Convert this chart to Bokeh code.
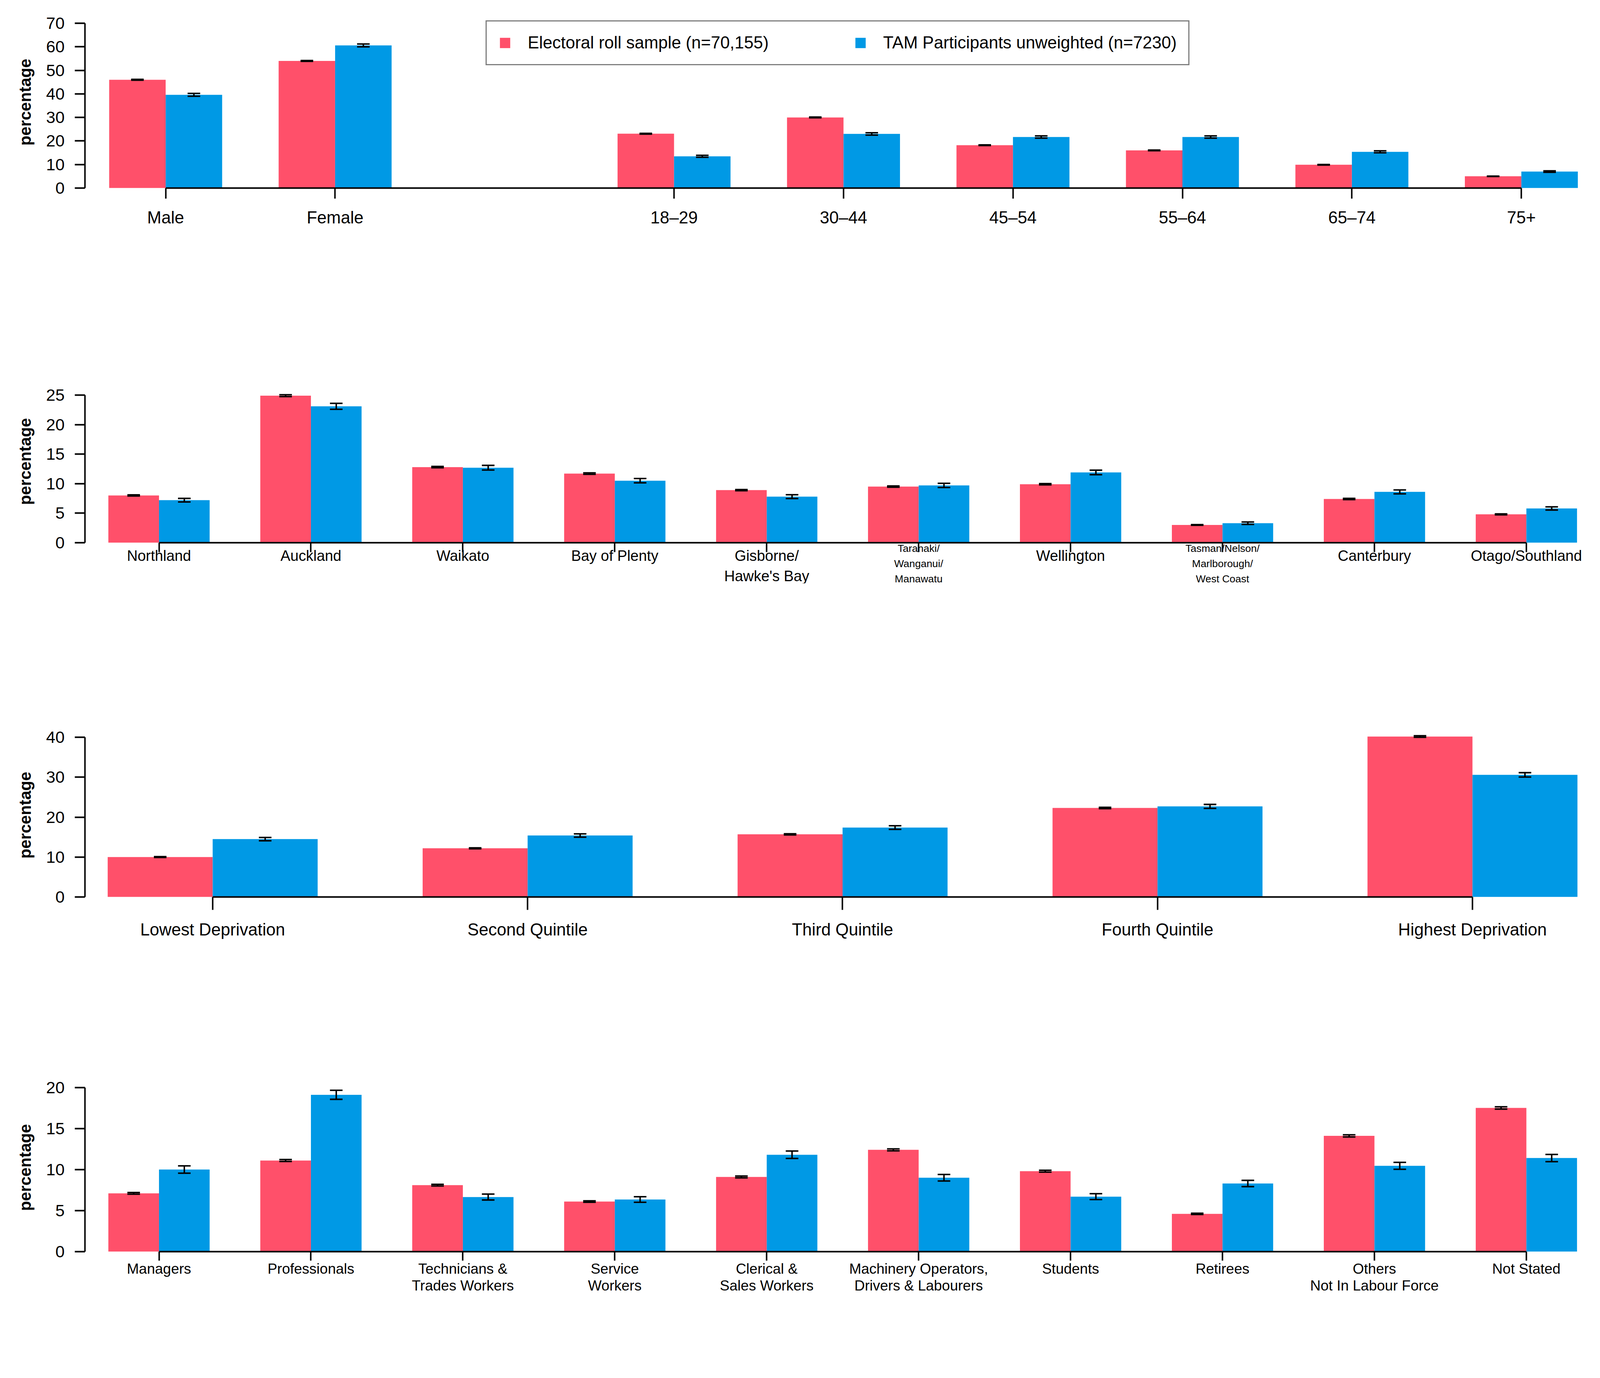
from bokeh.plotting import figure
from bokeh.models import (ColumnDataSource, Range1d, FixedTicker, Whisker, TeeHead,
                          Legend, LegendItem)
from bokeh.layouts import column
from bokeh.embed import file_html
from bokeh.resources import INLINE
from bokeh.core.properties import value

PINK = "#FF506A"
BLUE = "#0099E5"
FONT = "Liberation Sans"
SC = 1 / 1.055  # page scale so the whole chart fits the visible window


def s(v):
    return v * SC


def fs(v):
    return f"{v * SC:.1f}px"


# ---------------- data ----------------
legend_labels = ["Electoral roll sample (n=70,155)", "TAM Participants unweighted (n=7230)"]

sex_labels = ["Male", "Female"]
sex_roll = [46.0, 54.0]
sex_roll_err = [0.2, 0.2]
sex_tam = [39.6, 60.6]
sex_tam_err = [0.6, 0.6]

age_labels = ["18–29", "30–44", "45–54", "55–64", "65–74", "75+"]
age_roll = [23.1, 30.0, 18.2, 16.0, 9.9, 5.0]
age_roll_err = [0.16, 0.17, 0.15, 0.14, 0.11, 0.08]
age_tam = [13.5, 23.0, 21.7, 21.7, 15.4, 7.0]
age_tam_err = [0.4, 0.5, 0.48, 0.48, 0.42, 0.3]

region_labels = ["Northland", "Auckland", "Waikato", "Bay of Plenty",
                 "Gisborne/\nHawke's Bay", "Taranaki/\nWanganui/\nManawatu",
                 "Wellington", "Tasman/Nelson/\nMarlborough/\nWest Coast",
                 "Canterbury", "Otago/Southland"]
region_roll = [8.0, 24.9, 12.8, 11.7, 8.9, 9.5, 9.9, 3.0, 7.4, 4.8]
region_roll_err = [0.1, 0.16, 0.12, 0.12, 0.1, 0.11, 0.11, 0.06, 0.1, 0.08]
region_tam = [7.2, 23.1, 12.7, 10.5, 7.8, 9.7, 11.9, 3.3, 8.6, 5.8]
region_tam_err = [0.3, 0.5, 0.39, 0.36, 0.32, 0.35, 0.38, 0.21, 0.33, 0.27]

dep_labels = ["Lowest Deprivation", "Second Quintile", "Third Quintile",
              "Fourth Quintile", "Highest Deprivation"]
dep_roll = [10.0, 12.2, 15.7, 22.3, 40.2]
dep_roll_err = [0.11, 0.12, 0.14, 0.16, 0.19]
dep_tam = [14.5, 15.4, 17.4, 22.7, 30.6]
dep_tam_err = [0.41, 0.42, 0.45, 0.49, 0.54]

occ_labels = ["Managers", "Professionals", "Technicians &\nTrades Workers",
              "Service\nWorkers", "Clerical &\nSales Workers",
              "Machinery Operators,\nDrivers & Labourers", "Students", "Retirees",
              "Others\nNot In Labour Force", "Not Stated"]
occ_roll = [7.1, 11.1, 8.1, 6.1, 9.1, 12.4, 9.8, 4.6, 14.1, 17.5]
occ_roll_err = [0.1, 0.12, 0.1, 0.09, 0.11, 0.12, 0.11, 0.08, 0.13, 0.14]
occ_tam = [10.0, 19.1, 6.65, 6.35, 11.8, 9.0, 6.7, 8.3, 10.45, 11.4]
occ_tam_err = [0.45, 0.55, 0.36, 0.34, 0.45, 0.4, 0.36, 0.38, 0.42, 0.44]


def make_panel(slots, labels, roll, roll_err, tam, tam_err, *, x_start, x_end,
               y_start, y_end, y_max, y_step, height, border_top, border_bottom,
               lab_size, lab_standoff, tick_out, lab_line_height=1.2,
               small_size=None):
    p = figure(width=round(s(4292)), height=round(s(height)),
               x_range=Range1d(x_start, x_end), y_range=Range1d(y_start, y_end),
               output_backend="svg", toolbar_location=None, tools="", title=None,
               min_border_left=round(s(237) - 8), min_border_right=round(s(8)),
               min_border_top=round(s(border_top)),
               min_border_bottom=round(s(border_bottom)))
    p.outline_line_color = None
    p.grid.visible = False
    p.background_fill_color = "white"
    p.border_fill_color = "white"

    off = 1 / 6
    w = 1 / 3
    src_r = ColumnDataSource(dict(
        x=[v - off for v in slots], top=roll,
        lo=[v - e for v, e in zip(roll, roll_err)],
        hi=[v + e for v, e in zip(roll, roll_err)]))
    src_t = ColumnDataSource(dict(
        x=[v + off for v in slots], top=tam,
        lo=[v - e for v, e in zip(tam, tam_err)],
        hi=[v + e for v, e in zip(tam, tam_err)]))
    r1 = p.vbar(x="x", top="top", bottom=0, width=w, source=src_r,
                fill_color=PINK, line_color=None)
    r2 = p.vbar(x="x", top="top", bottom=0, width=w, source=src_t,
                fill_color=BLUE, line_color=None)
    for src in (src_r, src_t):
        wk = Whisker(base="x", lower="lo", upper="hi", source=src,
                     level="annotation", line_width=s(4), line_color="black",
                     upper_head=TeeHead(size=s(34), line_width=s(4), line_color="black"),
                     lower_head=TeeHead(size=s(34), line_width=s(4), line_color="black"))
        p.add_layout(wk)

    xa = p.xaxis[0]
    xa.ticker = FixedTicker(ticks=list(slots))
    xa.bounds = (min(slots), max(slots))
    overrides = {}
    small_x, small_t = [], []
    for v, lab in zip(slots, labels):
        if small_size is not None and lab.count("\n") >= 2:
            overrides[v] = ""
            small_x.append(v)
            small_t.append(lab)
        else:
            overrides[v] = lab
    if small_x:
        xa.fixed_location = 0
        p.text(x="x", y=0, text="t",
               source=ColumnDataSource(dict(x=small_x, t=small_t)),
               text_align="center", text_baseline="top",
               text_font=value(FONT), text_font_size=value(fs(small_size)),
               text_line_height=1.3, text_color="black")
    xa.major_label_overrides = overrides
    xa.axis_line_width = s(4)
    xa.axis_line_color = "black"
    xa.major_tick_line_width = s(4)
    xa.major_tick_line_color = "black"
    xa.major_tick_out = round(s(tick_out))
    xa.major_tick_in = 0
    xa.minor_tick_line_color = None
    xa.major_label_standoff = round(s(lab_standoff))
    xa.major_label_text_font = FONT
    xa.major_label_text_font_size = fs(lab_size)
    xa.major_label_text_color = "black"
    xa.major_label_text_line_height = lab_line_height

    ya = p.yaxis[0]
    ya.ticker = FixedTicker(ticks=list(range(0, y_max + 1, y_step)))
    ya.bounds = (0, y_max)
    ya.axis_line_width = s(4)
    ya.axis_line_color = "black"
    ya.major_tick_line_width = s(4)
    ya.major_tick_line_color = "black"
    ya.major_tick_out = round(s(27))
    ya.major_tick_in = 0
    ya.minor_tick_line_color = None
    ya.major_label_standoff = round(s(27))
    ya.major_label_text_font = FONT
    ya.major_label_text_font_size = fs(45)
    ya.major_label_text_color = "black"
    ya.axis_label = "percentage"
    ya.axis_label_text_font = FONT
    ya.axis_label_text_font_size = fs(44)
    ya.axis_label_text_font_style = "bold"
    ya.axis_label_text_color = "black"
    ya.axis_label_standoff = round(s(28))
    return p, r1, r2


# panel 1: sex, gap, age
sex_slots = list(range(len(sex_labels)))
age_slots = [len(sex_labels) + 1 + i for i in range(len(age_labels))]
p1, pr, pb = make_panel(sex_slots + age_slots, sex_labels + age_labels,
                        sex_roll + age_roll, sex_roll_err + age_roll_err,
                        sex_tam + age_tam, sex_tam_err + age_tam_err,
                        x_start=-0.4762, x_end=8.3823, y_start=0, y_end=73,
                        y_max=70, y_step=10,
                        height=892, border_top=43, border_bottom=384,
                        lab_size=46, lab_standoff=25, tick_out=29)
legend = Legend(items=[LegendItem(label=legend_labels[0], renderers=[pr]),
                       LegendItem(label=legend_labels[1], renderers=[pb])],
                location=(round(s(1082)), round(s(331))), orientation="horizontal",
                label_text_font=FONT, label_text_font_size=fs(46),
                label_text_color="black",
                glyph_width=round(s(35)), glyph_height=round(s(35)),
                label_standoff=round(s(44)),
                spacing=round(s(230)), padding=round(s(32)), margin=0,
                border_line_color="black", border_line_width=s(4),
                background_fill_color="white", background_fill_alpha=1.0)
p1.add_layout(legend)

# panel 2: region (frame extended below 0 to hold the small 3-line labels)
ext2_lo = 110 / 15.96
ext2_hi = 142 / 15.96
p2, _, _ = make_panel(list(range(len(region_labels))), region_labels,
                      region_roll, region_roll_err, region_tam, region_tam_err,
                      x_start=-0.4873, x_end=9.3933, y_start=-ext2_lo,
                      y_end=25.5 + ext2_hi, y_max=25, y_step=5,
                      height=900, border_top=25, border_bottom=216,
                      lab_size=40, lab_standoff=-12, tick_out=25,
                      lab_line_height=1.24, small_size=28)

p3, _, _ = make_panel(list(range(len(dep_labels))), dep_labels,
                      dep_roll, dep_roll_err, dep_tam, dep_tam_err,
                      x_start=-0.4055, x_end=4.3609, y_start=0, y_end=41,
                      y_max=40, y_step=10,
                      height=920, border_top=189, border_bottom=289,
                      lab_size=46, lab_standoff=27, tick_out=35)

p4, _, _ = make_panel(list(range(len(occ_labels))), occ_labels,
                      occ_roll, occ_roll_err, occ_tam, occ_tam_err,
                      x_start=-0.4873, x_end=9.3933, y_start=0, y_end=20.5,
                      y_max=20, y_step=5,
                      height=795, border_top=214, border_bottom=127,
                      lab_size=39, lab_standoff=0, tick_out=24,
                      lab_line_height=1.05)

layout = column(p1, p2, p3, p4, spacing=0)
open("out.html", "w").write(file_html(layout, INLINE))
